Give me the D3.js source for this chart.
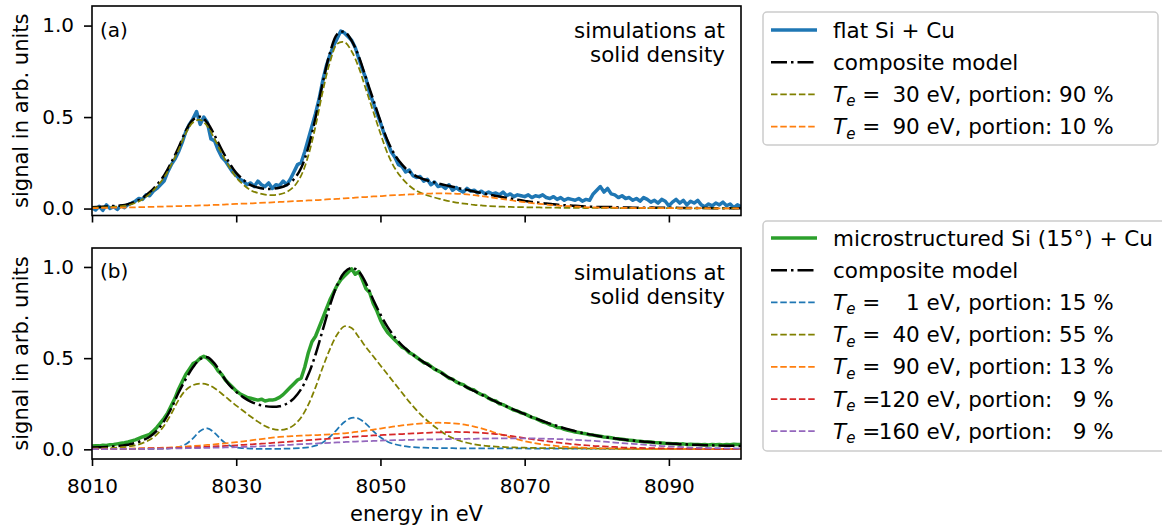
<!DOCTYPE html>
<html><head><meta charset="utf-8">
<script src="https://cdn.jsdelivr.net/npm/d3@7"></script>
<style>
html,body{margin:0;padding:0;background:#fff;}
svg text{font-family:"DejaVu Sans";fill:#000;}
</style></head><body>
<svg id="chart" width="1162" height="530"></svg>
<script>
// ---------- data ----------
const xTicks = [8010, 8030, 8050, 8070, 8090];
const yTicks = [0.0, 0.5, 1.0];
const xDomain = [8010, 8100];

// measured spectra (0.5 eV sampling, 8010 ... 8100 eV)
const flatSiCu = [
  0.005,-0.008,0.012,-0.01,0.02,0.0,0.01,-0.005,0.015,0.005,
  0.022,0.03,0.04,0.055,0.05,0.075,0.07,0.095,0.11,0.13,
  0.15,0.2,0.24,0.27,0.31,0.36,0.42,0.46,0.49,0.53,
  0.46,0.5,0.47,0.38,0.37,0.32,0.28,0.26,0.23,0.2,
  0.18,0.16,0.15,0.13,0.14,0.12,0.15,0.13,0.12,0.14,
  0.11,0.13,0.125,0.15,0.13,0.16,0.2,0.24,0.25,0.31,
  0.38,0.45,0.52,0.6,0.7,0.78,0.84,0.89,0.93,0.97,
  0.96,0.94,0.92,0.88,0.82,0.76,0.71,0.63,0.58,0.52,
  0.47,0.41,0.36,0.31,0.28,0.24,0.23,0.2,0.21,0.18,
  0.17,0.175,0.15,0.16,0.13,0.145,0.12,0.125,0.11,0.13,
  0.1,0.115,0.1,0.09,0.11,0.095,0.1,0.085,0.095,0.08,
  0.09,0.08,0.085,0.075,0.09,0.07,0.08,0.065,0.075,0.07,
  0.065,0.075,0.06,0.07,0.065,0.075,0.06,0.055,0.065,0.05,
  0.06,0.045,0.055,0.05,0.045,0.055,0.04,0.05,0.045,0.08,
  0.1,0.12,0.09,0.11,0.08,0.075,0.06,0.07,0.055,0.06,
  0.045,0.055,0.04,0.06,0.05,0.035,0.045,0.03,0.05,0.04,
  0.015,0.035,0.05,0.03,0.045,0.02,0.04,0.03,0.045,0.02,
  0.01,0.025,0.015,0.03,0.02,0.035,0.015,0.025,0.005,0.02,
  0.01];
const microSiCu = [
  0.018,0.02,0.019,0.022,0.021,0.025,0.027,0.03,0.033,0.036,
  0.04,0.046,0.052,0.06,0.068,0.075,0.082,0.1,0.12,0.145,
  0.17,0.2,0.24,0.28,0.33,0.37,0.41,0.44,0.47,0.48,
  0.5,0.51,0.5,0.48,0.46,0.43,0.41,0.38,0.36,0.34,
  0.32,0.305,0.295,0.285,0.28,0.275,0.27,0.275,0.265,0.27,
  0.27,0.275,0.285,0.3,0.32,0.34,0.36,0.38,0.39,0.45,
  0.53,0.59,0.62,0.67,0.72,0.77,0.82,0.86,0.9,0.93,
  0.95,0.97,0.99,0.96,0.975,0.93,0.88,0.86,0.8,0.76,
  0.71,0.67,0.64,0.62,0.6,0.58,0.56,0.55,0.53,0.52,
  0.505,0.49,0.475,0.47,0.455,0.44,0.43,0.42,0.405,0.39,
  0.385,0.37,0.36,0.355,0.34,0.33,0.325,0.31,0.3,0.295,
  0.28,0.27,0.265,0.25,0.245,0.235,0.225,0.215,0.21,0.2,
  0.195,0.185,0.175,0.17,0.16,0.15,0.145,0.135,0.13,0.12,
  0.118,0.11,0.105,0.1,0.095,0.092,0.088,0.085,0.08,0.078,
  0.075,0.072,0.068,0.066,0.063,0.06,0.058,0.055,0.052,0.05,
  0.048,0.046,0.045,0.042,0.04,0.04,0.037,0.036,0.035,0.033,
  0.032,0.031,0.03,0.028,0.03,0.027,0.028,0.026,0.027,0.025,
  0.026,0.024,0.027,0.025,0.026,0.024,0.027,0.025,0.028,0.026,
  0.027];

// simulations (1 eV sampling, 8010 ... 8100 eV)
const compositeA = [
  .007,.009,.011,.014,.017,.024,.037,.058,.089,.13,
  .181,.252,.333,.424,.485,.502,.468,.40,.321,.253,
  .195,.157,.128,.115,.108,.108,.114,.128,.16,.222,
  .334,.496,.688,.851,.953,.966,.918,.831,.713,.596,
  .478,.371,.293,.24,.202,.176,.16,.148,.138,.128,
  .119,.11,.102,.093,.085,.077,.069,.062,.055,.048,
  .042,.036,.032,.027,.023,.019,.017,.015,.012,.010,
  .009,.008,.008,.006,.006,.005,.005,.005,.005,.004,
  .004,.004,.003,.003,.003,.003,.002,.002,.002,.002,
  .002];
const te30A = [
  .005,.006,.007,.009,.012,.018,.03,.05,.08,.12,
  .17,.24,.32,.41,.47,.485,.45,.38,.30,.23,
  .17,.13,.10,.085,.076,.074,.078,.09,.12,.18,
  .29,.45,.64,.80,.90,.91,.86,.77,.65,.53,
  .41,.30,.22,.165,.125,.097,.079,.066,.055,.045,
  .037,.03,.025,.02,.017,.014,.012,.01,.009,.008,
  .007,.006,.006,.005,.005,.004,.004,.004,.003,.003,
  .003,.003,.003,.002,.002,.002,.002,.002,.002,.002,
  .002,.002,.001,.001,.001,.001,.001,.001,.001,.001,
  .001];
const te90A = [
  .002,.003,.004,.005,.005,.006,.007,.008,.009,.010,
  .011,.012,.013,.014,.015,.017,.018,.020,.021,.023,
  .025,.027,.028,.030,.032,.034,.036,.038,.040,.042,
  .044,.046,.048,.051,.053,.056,.058,.061,.063,.066,
  .068,.071,.073,.075,.077,.079,.081,.082,.083,.083,
  .082,.080,.077,.073,.068,.063,.057,.052,.046,.040,
  .035,.030,.026,.022,.018,.015,.013,.011,.009,.007,
  .006,.005,.005,.004,.004,.003,.003,.003,.003,.002,
  .002,.002,.002,.002,.002,.002,.001,.001,.001,.001,
  .001];

const compositeB = [
  .01,.011,.013,.016,.02,.025,.035,.049,.069,.102,
  .155,.225,.31,.385,.45,.495,.505,.47,.41,.355,
  .315,.285,.262,.246,.237,.233,.236,.25,.28,.33,
  .41,.52,.655,.79,.9,.97,.995,.975,.91,.82,
  .74,.67,.615,.57,.535,.505,.478,.453,.43,.405,
  .383,.361,.34,.32,.3,.281,.262,.244,.226,.209,
  .193,.177,.162,.148,.135,.122,.11,.1,.09,.082,
  .075,.068,.062,.057,.052,.048,.044,.041,.038,.035,
  .032,.03,.028,.026,.025,.023,.022,.021,.02,.019,
  .018];
const te1B = [
  .001,.001,.001,.001,.001,.001,.002,.002,.002,.003,
  .004,.006,.012,.028,.06,.1,.115,.09,.05,.022,
  .01,.006,.004,.003,.003,.003,.003,.004,.005,.007,
  .011,.02,.038,.068,.11,.15,.172,.168,.14,.1,
  .066,.042,.028,.019,.014,.011,.009,.008,.007,.006,
  .006,.005,.005,.005,.005,.005,.005,.005,.005,.005,
  .005,.004,.004,.004,.004,.004,.004,.004,.004,.004,
  .004,.003,.003,.003,.003,.003,.003,.003,.003,.003,
  .003,.002,.002,.002,.002,.002,.002,.002,.002,.002,
  .002];
const te40B = [
  .004,.005,.006,.008,.011,.015,.022,.034,.052,.082,
  .13,.195,.27,.325,.352,.36,.355,.335,.305,.272,
  .24,.21,.18,.152,.128,.112,.106,.112,.133,.175,
  .245,.34,.45,.55,.63,.675,.665,.615,.56,.51,
  .46,.41,.36,.31,.26,.215,.175,.14,.11,.083,
  .062,.047,.036,.028,.022,.018,.015,.013,.011,.01,
  .009,.008,.007,.007,.006,.006,.005,.005,.005,.004,
  .004,.004,.004,.003,.003,.003,.003,.003,.003,.003,
  .002,.002,.002,.002,.002,.002,.002,.002,.002,.002,
  .002];
const te90B = [
  .002,.002,.003,.003,.004,.004,.005,.006,.007,.008,
  .009,.011,.013,.015,.018,.021,.024,.027,.031,.035,
  .039,.044,.049,.054,.059,.064,.068,.071,.073,.075,
  .077,.078,.08,.082,.085,.088,.092,.097,.102,.108,
  .114,.12,.126,.131,.136,.14,.143,.145,.146,.145,
  .143,.139,.133,.125,.115,.103,.09,.078,.066,.055,
  .045,.037,.03,.024,.02,.016,.013,.011,.009,.007,
  .006,.005,.005,.004,.004,.004,.003,.003,.003,.003,
  .003,.002,.002,.002,.002,.002,.002,.002,.002,.002,
  .002];
const te120B = [
  .001,.001,.002,.002,.002,.003,.003,.004,.005,.005,
  .006,.007,.008,.009,.011,.012,.014,.016,.018,.02,
  .022,.025,.027,.03,.032,.035,.038,.041,.044,.047,
  .05,.053,.056,.059,.062,.065,.068,.071,.073,.076,
  .078,.08,.082,.084,.086,.088,.09,.092,.093,.094,
  .095,.095,.094,.093,.091,.088,.084,.079,.074,.068,
  .062,.056,.05,.045,.04,.035,.031,.027,.024,.021,
  .018,.016,.014,.012,.01,.009,.008,.007,.006,.005,
  .005,.004,.004,.003,.003,.003,.002,.002,.002,.002,
  .002];
const te160B = [
  .001,.001,.001,.002,.002,.002,.003,.003,.003,.004,
  .004,.005,.005,.006,.007,.007,.008,.009,.01,.011,
  .012,.013,.015,.016,.018,.02,.022,.024,.026,.028,
  .03,.032,.034,.036,.038,.04,.042,.043,.045,.046,
  .048,.049,.05,.051,.052,.053,.054,.055,.055,.056,
  .057,.057,.058,.058,.059,.059,.06,.06,.06,.06,
  .06,.06,.059,.058,.057,.056,.054,.052,.05,.048,
  .045,.042,.039,.036,.033,.03,.027,.024,.021,.018,
  .016,.014,.012,.01,.009,.008,.007,.006,.005,.005,
  .004];

const tempsA = [30, 90], portionsA = [90, 10];
const tempsB = [1, 40, 90, 120, 160], portionsB = [15, 55, 13, 9, 9];

// ---------- layout ----------
const measStep = 0.5, simStep = 1;
const eMeas = flatSiCu.map((_, i) => xDomain[0] + i * measStep);
const eSim = compositeA.map((_, i) => xDomain[0] + i * simStep);

const C = {blue:'#1f77b4', green:'#2ca02c', olive:'#808000', orange:'#ff7f0e', red:'#d62728', purple:'#9467bd'};
const DASH = '6.5,2.8', DASHDOT = '16,4,2.5,4';
const FS = 21.4, FS_LEG = 21.5, FS_TICK = 20;

const svg = d3.select('#chart');
const L = 92, R = 741;
const x = d3.scaleLinear().domain(xDomain).range([L, R]);

const panels = [
  {id:'a', top:6, bottom:215.5, ydom:[-0.038, 1.107], letter:'(a)',
   meas: flatSiCu, measColor: C.blue, comp: compositeA,
   parts: [{v: te30A, c: C.olive}, {v: te90A, c: C.orange}]},
  {id:'b', top:248, bottom:459, ydom:[-0.053, 1.104], letter:'(b)',
   meas: microSiCu, measColor: C.green, comp: compositeB,
   parts: [{v: te1B, c: C.blue}, {v: te40B, c: C.olive}, {v: te90B, c: C.orange},
           {v: te120B, c: C.red}, {v: te160B, c: C.purple}]}
];

panels.forEach((p, pi) => {
  const y = d3.scaleLinear().domain(p.ydom).range([p.bottom, p.top]);
  const g = svg.append('g');
  g.append('clipPath').attr('id', 'clip' + p.id).append('rect')
    .attr('x', L).attr('y', p.top).attr('width', R - L).attr('height', p.bottom - p.top);
  const plot = g.append('g').attr('clip-path', `url(#clip${p.id})`);

  const lineMeas = d3.line().x((d, i) => x(eMeas[i])).y(d => y(d));
  const lineSim = d3.line().x((d, i) => x(eSim[i])).y(d => y(d)).curve(d3.curveCatmullRom);

  plot.append('path').attr('d', lineMeas(p.meas)).attr('fill', 'none')
    .attr('stroke', p.measColor).attr('stroke-width', 3.5).attr('stroke-linejoin', 'round');
  plot.append('path').attr('d', lineSim(p.comp)).attr('fill', 'none')
    .attr('stroke', '#000').attr('stroke-width', 2.5).attr('stroke-dasharray', DASHDOT);
  p.parts.forEach(s => {
    plot.append('path').attr('d', lineSim(s.v)).attr('fill', 'none')
      .attr('stroke', s.c).attr('stroke-width', 1.75).attr('stroke-dasharray', DASH);
  });

  // axes
  const ax = g.append('g').attr('transform', `translate(0,${p.bottom})`)
    .call(d3.axisBottom(x).tickValues(xTicks).tickSize(7).tickPadding(13).tickFormat(pi === 1 ? d3.format('d') : () => ''));
  const ay = g.append('g').attr('transform', `translate(${L},0)`)
    .call(d3.axisLeft(y).tickValues(yTicks).tickSize(8).tickPadding(10).tickFormat(d3.format('.1f')));
  [ax, ay].forEach(a => {
    a.select('.domain').remove();
    a.selectAll('.tick line').attr('stroke', '#000').attr('stroke-width', 1.6);
    a.selectAll('.tick text').attr('font-size', FS_TICK).attr('font-family', 'DejaVu Sans').attr('fill', '#000');
  });
  g.append('rect').attr('x', L).attr('y', p.top).attr('width', R - L).attr('height', p.bottom - p.top)
    .attr('fill', 'none').attr('stroke', '#000').attr('stroke-width', 1.6);

  g.append('text').attr('x', 100).attr('y', y(1) + 11).attr('font-size', FS_TICK).text(p.letter);
  g.append('text').attr('x', 725).attr('y', p.top + 32).attr('font-size', FS)
    .attr('text-anchor', 'end').text('simulations at');
  g.append('text').attr('x', 725).attr('y', p.top + 56).attr('font-size', FS)
    .attr('text-anchor', 'end').text('solid density');

  g.append('text').attr('transform', `translate(27.5,${(p.top + p.bottom) / 2}) rotate(-90)`)
    .attr('text-anchor', 'middle').attr('font-size', 21).text('signal in arb. units');
});

svg.append('text').attr('x', (L + R) / 2).attr('y', 521).attr('text-anchor', 'middle')
  .attr('font-size', 21).text('energy in eV');

// ---------- legends ----------
function teText(t, temp, portion) {
  t.style('white-space', 'pre');
  t.append('tspan').attr('font-style', 'italic').text('T');
  t.append('tspan').attr('font-style', 'italic').attr('font-size', 15).attr('dy', 4.5).text('e');
  t.append('tspan').attr('dy', -4.5).text(' =');
  const tp = String(temp), pp = String(portion);
  t.append('tspan').attr('dx', -1.5).text('  '.repeat(3 - tp.length) + tp + ' eV, portion: ' +
    '  '.repeat(2 - pp.length) + pp + ' %');
}

function legend(x0, y0, w, h, firstRow, entries) {
  const g = svg.append('g');
  g.append('rect').attr('x', x0).attr('y', y0).attr('width', w).attr('height', h).attr('rx', 4)
    .attr('fill', '#fff').attr('fill-opacity', 0.8).attr('stroke', '#cccccc').attr('stroke-width', 1.5);
  entries.forEach((e, i) => {
    const cy = firstRow + i * 32.2;
    const ln = g.append('line').attr('x1', 771).attr('x2', 817).attr('y1', cy).attr('y2', cy)
      .attr('stroke', e.color);
    if (e.kind === 'solid') ln.attr('stroke-width', 3.5);
    else if (e.kind === 'dashdot') ln.attr('stroke-width', 2.5).attr('stroke-dasharray', DASHDOT);
    else ln.attr('stroke-width', 1.75).attr('stroke-dasharray', DASH);
    const t = g.append('text').attr('x', 833).attr('y', cy + 7.5).attr('font-size', FS_LEG);
    if (e.temp !== undefined) teText(t, e.temp, e.portion);
    else t.text(e.label);
  });
}

legend(763, 12, 395, 133, 30, [
  {kind:'solid', color:C.blue, label:'flat Si + Cu'},
  {kind:'dashdot', color:'#000', label:'composite model'},
  ...tempsA.map((t, i) => ({kind:'dash', color:[C.olive, C.orange][i], temp:t, portion:portionsA[i]}))
]);
legend(763, 221, 430, 230, 238, [
  {kind:'solid', color:C.green, label:'microstructured Si (15°) + Cu'},
  {kind:'dashdot', color:'#000', label:'composite model'},
  ...tempsB.map((t, i) => ({kind:'dash', color:[C.blue, C.olive, C.orange, C.red, C.purple][i], temp:t, portion:portionsB[i]}))
]);
</script>
</body></html>
